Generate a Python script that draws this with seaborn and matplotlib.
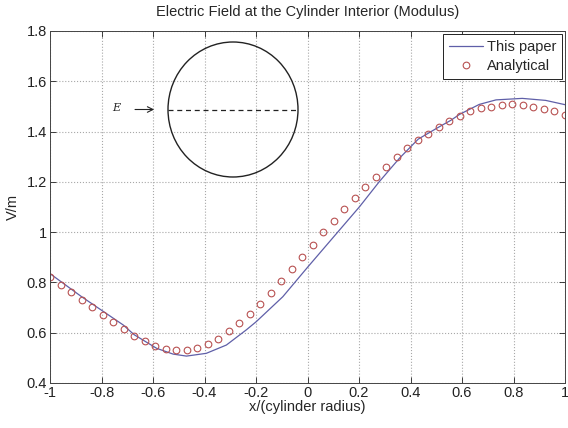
import numpy as np
import pandas as pd
import seaborn as sns
import matplotlib.pyplot as plt
from matplotlib.patches import Ellipse

# "This paper" curve
paper_x = [-1.0, -0.877, -0.716, -0.673, -0.586, -0.522, -0.470, -0.393, -0.315,
           -0.238, -0.199, -0.096, 0.0, 0.098, 0.202, 0.279, 0.357, 0.43, 0.51,
           0.557, 0.59, 0.667, 0.732, 0.834, 0.925, 1.0]
paper_y = [0.835, 0.743, 0.631, 0.592, 0.538, 0.515, 0.507, 0.518, 0.551,
           0.611, 0.644, 0.743, 0.860, 0.977, 1.101, 1.201, 1.294, 1.37, 1.418,
           1.445, 1.468, 1.508, 1.526, 1.532, 1.524, 1.507]

# analytical samples (50 points across the diameter)
analytical_x = np.linspace(-1, 1, 50)
analytical_y = [0.820, 0.790, 0.761, 0.730, 0.701, 0.672, 0.641, 0.615, 0.588, 0.567,
                0.547, 0.536, 0.530, 0.532, 0.540, 0.555, 0.576, 0.608, 0.640, 0.674,
                0.715, 0.759, 0.807, 0.853, 0.901, 0.949, 0.999, 1.045, 1.091, 1.135,
                1.178, 1.219, 1.259, 1.299, 1.333, 1.366, 1.390, 1.417, 1.442, 1.462,
                1.483, 1.493, 1.499, 1.506, 1.508, 1.506, 1.499, 1.490, 1.482, 1.466]

x_ticks = [-1, -0.8, -0.6, -0.4, -0.2, 0, 0.2, 0.4, 0.6, 0.8, 1]
x_ticklabels = ['-1', '-0.8', '-0.6', '-0.4', '-0.2', '0', '0.2', '0.4', '0.6', '0.8', '1']
y_ticks = [0.4, 0.6, 0.8, 1.0, 1.2, 1.4, 1.6, 1.8]
y_ticklabels = ['0.4', '0.6', '0.8', '1', '1.2', '1.4', '1.6', '1.8']

paper_df = pd.DataFrame({'x': paper_x, 'y': paper_y})
analytical_df = pd.DataFrame({'x': analytical_x, 'y': analytical_y})

sns.set_style('ticks')
plt.rcParams['font.family'] = ['Liberation Sans', 'DejaVu Sans']
plt.rcParams['axes.unicode_minus'] = False

fig = plt.figure(figsize=(5.68, 4.28), dpi=100)
ax = fig.add_axes([50 / 568, 45 / 428, 515 / 568, 352 / 428])

red = '#b85252'
sns.lineplot(data=paper_df, x='x', y='y', ax=ax, color='#5f5fa8', linewidth=0.9,
             label='This paper')
sns.lineplot(data=analytical_df, x='x', y='y', ax=ax, color=red, linestyle='none',
             marker='o', markersize=4.8, markerfacecolor='none',
             markeredgecolor=red, markeredgewidth=0.8, label='Analytical')

ax.set_xlim(-1, 1)
ax.set_ylim(0.4, 1.8)
ax.set_xticks(x_ticks)
ax.set_xticklabels(x_ticklabels)
ax.set_yticks(y_ticks)
ax.set_yticklabels(y_ticklabels)
ax.tick_params(direction='in', top=True, right=True, length=4, width=0.6,
               labelsize=10.5, colors='#222222', pad=2)
ax.grid(True, linestyle=':', color='#a8a8a8', linewidth=0.8)
for s in ax.spines.values():
    s.set_linewidth(0.7)
    s.set_color('#444444')

ax.set_title('Electric Field at the Cylinder Interior (Modulus)', fontsize=10.5, pad=11)
ax.set_xlabel('x/(cylinder radius)', fontsize=10.5, labelpad=0)
ax.set_ylabel('V/m', fontsize=10.5, labelpad=5)

leg = ax.legend(loc='upper right', fontsize=10.5, frameon=True, fancybox=False,
                borderaxespad=0.2, handlelength=2.3, handletextpad=0.3,
                borderpad=0.4, labelspacing=0.35)
leg.get_frame().set_edgecolor('#222222')
leg.get_frame().set_linewidth(0.7)
leg.get_frame().set_alpha(1)

# inset sketch of the cylinder
ins = fig.add_axes([168 / 568, (428 - 177) / 428, 130 / 568, 135 / 428])
ins.set_xlim(-1, 1)
ins.set_ylim(-1, 1)
ins.axis('off')
ins.add_patch(Ellipse((0, 0), 2, 2, fill=False, edgecolor='#222222', linewidth=1.0,
                      clip_on=False))
ins.plot([-1, 1], [0, 0], color='#222222', linestyle=(0, (4, 3)), linewidth=0.9,
         clip_on=False)
ins.annotate('', xy=(-1.17, 0), xytext=(-1.55, 0),
             arrowprops=dict(arrowstyle='->', color='#222222', linewidth=0.8),
             annotation_clip=False)
ins.text(-1.79, 0.02, 'E', fontsize=8, style='italic', family='DejaVu Serif',
         ha='center', va='center')

fig.savefig('out.png', dpi=100)
